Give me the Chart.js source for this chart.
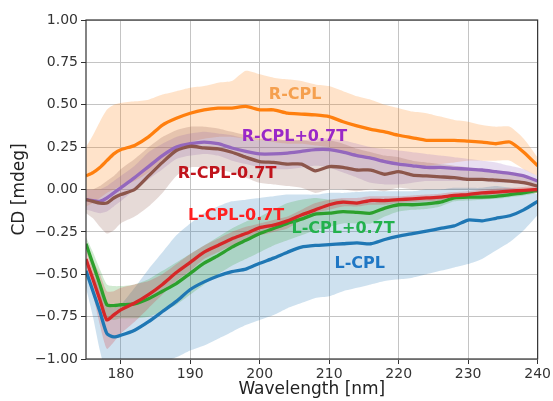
<!DOCTYPE html>
<html>
<head>
<meta charset="utf-8">
<script src="https://cdn.jsdelivr.net/npm/chart.js@4"></script>
<style>
  html, body { margin: 0; padding: 0; background: #fff; }
  #wrap { width: 553px; height: 401px; }
</style>
</head>
<body>
<div id="wrap"><canvas id="cdChart" width="553" height="401"></canvas></div>
<script>
// wavelengths in nm
const wavelengths = [175,176,177,178,179,180,182,184,186,188,190,192,194,196,198,200,202,204,206,208,210,212,214,216,218,220,222,224,226,228,230,232,234,236,238,240];

// R-CPL (orange)
const rCpl      = [0.08,0.10,0.13,0.17,0.21,0.235,0.26,0.31,0.38,0.42,0.45,0.47,0.48,0.48,0.49,0.47,0.47,0.45,0.445,0.44,0.43,0.40,0.375,0.355,0.34,0.32,0.305,0.29,0.29,0.29,0.285,0.28,0.27,0.28,0.22,0.14];
const rCplHi    = [0.25,0.32,0.40,0.47,0.50,0.51,0.52,0.53,0.56,0.58,0.60,0.61,0.63,0.64,0.70,0.68,0.66,0.65,0.64,0.62,0.61,0.58,0.55,0.53,0.50,0.48,0.46,0.45,0.43,0.41,0.40,0.38,0.37,0.37,0.30,0.19];
const rCplLo    = [-0.10,-0.08,-0.05,-0.02,0.0,0.02,0.05,0.10,0.17,0.23,0.28,0.30,0.31,0.31,0.30,0.29,0.28,0.27,0.27,0.26,0.25,0.22,0.20,0.18,0.17,0.16,0.15,0.14,0.15,0.16,0.17,0.17,0.17,0.17,0.12,0.08];

// R-CPL+0.7T (purple)
const rCplPlus   = [-0.06,-0.065,-0.07,-0.05,-0.02,0.01,0.07,0.135,0.20,0.25,0.27,0.28,0.27,0.245,0.225,0.21,0.21,0.215,0.225,0.235,0.235,0.22,0.20,0.185,0.165,0.15,0.14,0.13,0.13,0.125,0.12,0.115,0.105,0.095,0.08,0.05];
const rCplPlusHi = [0.0,0.0,0.0,0.02,0.05,0.08,0.14,0.22,0.27,0.31,0.33,0.34,0.33,0.32,0.30,0.29,0.29,0.29,0.29,0.30,0.30,0.29,0.27,0.25,0.24,0.23,0.22,0.21,0.20,0.19,0.18,0.17,0.16,0.14,0.12,0.08];
const rCplPlusLo = [-0.12,-0.13,-0.14,-0.13,-0.10,-0.07,0.0,0.06,0.12,0.18,0.20,0.21,0.20,0.17,0.15,0.13,0.12,0.12,0.13,0.14,0.13,0.10,0.07,0.04,0.03,0.03,0.04,0.05,0.05,0.05,0.05,0.05,0.04,0.04,0.03,0.02];

// R-CPL-0.7T (brown)
const rCplMinus   = [-0.06,-0.07,-0.08,-0.08,-0.05,-0.03,0.0,0.08,0.16,0.23,0.255,0.245,0.24,0.22,0.19,0.165,0.16,0.15,0.15,0.11,0.135,0.13,0.115,0.115,0.09,0.105,0.085,0.08,0.075,0.07,0.06,0.06,0.055,0.05,0.04,0.02];
const rCplMinusHi = [0.0,0.0,0.02,0.05,0.08,0.12,0.18,0.25,0.31,0.35,0.37,0.37,0.36,0.34,0.32,0.30,0.30,0.29,0.29,0.28,0.29,0.27,0.24,0.22,0.20,0.19,0.17,0.16,0.15,0.14,0.13,0.12,0.11,0.10,0.08,0.05];
const rCplMinusLo = [-0.14,-0.17,-0.22,-0.26,-0.24,-0.20,-0.16,-0.10,-0.02,0.08,0.13,0.13,0.12,0.10,0.07,0.04,0.03,0.02,0.01,-0.02,0.0,0.0,-0.01,0.0,-0.01,0.01,0.0,0.0,0.0,0.0,0.0,0.0,0.0,0.0,0.0,-0.01];

// L-CPL-0.7T (red)
const lCplMinus   = [-0.41,-0.53,-0.65,-0.77,-0.74,-0.71,-0.67,-0.62,-0.56,-0.49,-0.43,-0.37,-0.33,-0.29,-0.26,-0.225,-0.21,-0.185,-0.15,-0.12,-0.09,-0.075,-0.08,-0.065,-0.065,-0.06,-0.055,-0.05,-0.045,-0.035,-0.03,-0.02,-0.015,-0.01,-0.005,0.0];
const lCplMinusHi = [-0.36,-0.42,-0.50,-0.60,-0.60,-0.58,-0.56,-0.54,-0.50,-0.44,-0.38,-0.33,-0.29,-0.25,-0.22,-0.20,-0.18,-0.16,-0.12,-0.08,-0.06,-0.05,-0.05,-0.04,-0.04,-0.04,-0.035,-0.03,-0.025,-0.015,-0.01,0.0,0.005,0.01,0.015,0.02];
const lCplMinusLo = [-0.46,-0.62,-0.80,-0.94,-0.90,-0.85,-0.78,-0.70,-0.62,-0.54,-0.48,-0.41,-0.37,-0.33,-0.30,-0.27,-0.25,-0.23,-0.18,-0.14,-0.12,-0.10,-0.10,-0.09,-0.09,-0.08,-0.075,-0.07,-0.065,-0.055,-0.05,-0.04,-0.035,-0.03,-0.025,-0.02];

// L-CPL+0.7T (green)
const lCplPlus   = [-0.32,-0.44,-0.56,-0.68,-0.685,-0.68,-0.675,-0.645,-0.60,-0.555,-0.495,-0.435,-0.39,-0.34,-0.30,-0.26,-0.23,-0.20,-0.175,-0.145,-0.14,-0.13,-0.135,-0.14,-0.11,-0.09,-0.09,-0.085,-0.075,-0.05,-0.045,-0.045,-0.04,-0.03,-0.02,-0.005];
const lCplPlusHi = [-0.28,-0.37,-0.47,-0.56,-0.57,-0.57,-0.56,-0.53,-0.48,-0.43,-0.38,-0.33,-0.28,-0.23,-0.19,-0.16,-0.12,-0.08,-0.06,-0.05,-0.06,-0.06,-0.07,-0.08,-0.06,-0.05,-0.05,-0.05,-0.04,-0.03,-0.02,-0.02,-0.02,-0.01,0.0,0.01];
const lCplPlusLo = [-0.36,-0.50,-0.64,-0.76,-0.77,-0.76,-0.76,-0.75,-0.72,-0.68,-0.62,-0.56,-0.50,-0.45,-0.41,-0.37,-0.33,-0.30,-0.27,-0.24,-0.22,-0.20,-0.20,-0.20,-0.16,-0.13,-0.12,-0.115,-0.10,-0.07,-0.065,-0.06,-0.055,-0.045,-0.035,-0.02];

// L-CPL (blue)
const lCpl   = [-0.48,-0.60,-0.72,-0.85,-0.87,-0.86,-0.83,-0.78,-0.72,-0.66,-0.59,-0.545,-0.51,-0.485,-0.47,-0.435,-0.405,-0.37,-0.34,-0.33,-0.325,-0.32,-0.315,-0.32,-0.295,-0.275,-0.26,-0.245,-0.23,-0.215,-0.18,-0.185,-0.17,-0.155,-0.12,-0.07];
const lCplHi = [-0.40,-0.50,-0.58,-0.68,-0.70,-0.68,-0.58,-0.47,-0.37,-0.27,-0.20,-0.14,-0.10,-0.07,-0.06,-0.05,-0.04,-0.03,-0.03,-0.03,-0.02,-0.02,-0.015,-0.01,-0.01,-0.01,-0.01,0.0,0.0,0.01,0.01,0.01,0.02,0.01,0.0,-0.03];
const lCplLo = [-0.58,-0.75,-0.95,-1.10,-1.15,-1.15,-1.12,-1.06,-1.02,-0.99,-0.95,-0.92,-0.88,-0.84,-0.80,-0.77,-0.74,-0.70,-0.67,-0.64,-0.63,-0.60,-0.58,-0.56,-0.54,-0.53,-0.52,-0.50,-0.48,-0.46,-0.44,-0.41,-0.36,-0.31,-0.24,-0.15];

// in-plot labels
const labelTexts = ['R-CPL','R-CPL+0.7T','R-CPL-0.7T','L-CPL-0.7T','L-CPL+0.7T','L-CPL'];
const labelX     = [205.1, 205.0, 195.3, 196.6, 212.0, 214.4];
const labelY     = [0.56, 0.31, 0.09, -0.155, -0.23, -0.44];
const labelColors = ['#f5a04f','#9a28c8','#c0141c','#ff1f1f','#22b14c','#1f77c4'];

const xTicks = [180,190,200,210,220,230,240];
const yTicks = [-1,-0.75,-0.5,-0.25,0,0.25,0.5,0.75,1];

const pts = arr => arr.map((v, i) => ({ x: wavelengths[i], y: v }));

// drawn top-first (index 0 on top)
const series = [
  { mean: rCplMinus, lo: rCplMinusLo, hi: rCplMinusHi, rgb: '140,86,75' },
  { mean: rCplPlus,  lo: rCplPlusLo,  hi: rCplPlusHi,  rgb: '148,103,189' },
  { mean: lCplMinus, lo: lCplMinusLo, hi: lCplMinusHi, rgb: '214,39,40' },
  { mean: lCplPlus,  lo: lCplPlusLo,  hi: lCplPlusHi,  rgb: '44,160,44' },
  { mean: rCpl,      lo: rCplLo,      hi: rCplHi,      rgb: '255,127,14' },
  { mean: lCpl,      lo: lCplLo,      hi: lCplHi,      rgb: '31,119,180' },
];

const datasets = [];
series.forEach(s => {
  datasets.push({
    data: pts(s.mean),
    borderColor: 'rgb(' + s.rgb + ')',
    borderWidth: 3.3,
    pointRadius: 0,
    fill: false,
    tension: 0.2,
  });
});
series.forEach(s => {
  datasets.push({
    data: pts(s.lo),
    borderWidth: 0,
    pointRadius: 0,
    fill: false,
    tension: 0.2,
  });
  datasets.push({
    data: pts(s.hi),
    borderWidth: 0,
    pointRadius: 0,
    backgroundColor: 'rgba(' + s.rgb + ',0.22)',
    fill: '-1',
    tension: 0.2,
  });
});

const minusSign = v => v.toFixed(2).replace('-', '\u2212');

const decorations = {
  id: 'decorations',
  afterDatasetsDraw(chart) {
    const { ctx, chartArea, scales } = chart;
    ctx.save();
    ctx.font = 'bold 16px "DejaVu Sans"';
    ctx.textAlign = 'center';
    ctx.textBaseline = 'middle';
    labelTexts.forEach((t, i) => {
      ctx.fillStyle = labelColors[i];
      ctx.fillText(t, scales.x.getPixelForValue(labelX[i]), scales.y.getPixelForValue(labelY[i]));
    });
    ctx.strokeStyle = '#333';
    ctx.lineWidth = 1.2;
    ctx.strokeRect(chartArea.left, chartArea.top, chartArea.right - chartArea.left, chartArea.bottom - chartArea.top);
    ctx.restore();
  }
};

new Chart(document.getElementById('cdChart'), {
  type: 'line',
  data: { datasets },
  plugins: [decorations],
  options: {
    responsive: false,
    animation: false,
    layout: { padding: { top: 20, right: 14, left: 0, bottom: 0 } },
    plugins: { legend: { display: false }, tooltip: { enabled: false } },
    scales: {
      x: {
        type: 'linear',
        min: 175,
        max: 240,
        afterBuildTicks: axis => { axis.ticks = xTicks.map(v => ({ value: v })); },
        afterFit: axis => { axis.height = 42; },
        grid: { color: '#c4c4c4', tickColor: '#333', tickLength: 5, lineWidth: 1 },
        border: { display: false },
        ticks: { color: '#333', padding: 2, maxRotation: 0, font: { family: 'DejaVu Sans', size: 14 } },
        title: { display: true, text: 'Wavelength [nm]', color: '#222', padding: { top: 0, bottom: 1 }, font: { family: 'DejaVu Sans', size: 17 } },
      },
      y: {
        min: -1,
        max: 1,
        afterBuildTicks: axis => { axis.ticks = yTicks.map(v => ({ value: v })); },
        afterFit: axis => { axis.width = 86; },
        grid: { color: '#c4c4c4', tickColor: '#333', tickLength: 5, lineWidth: 1 },
        border: { display: false },
        ticks: { color: '#333', padding: 3, callback: v => minusSign(v), font: { family: 'DejaVu Sans', size: 14 } },
        title: { display: true, text: 'CD [mdeg]', color: '#222', padding: { top: 9, bottom: 0 }, font: { family: 'DejaVu Sans', size: 17 } },
      },
    },
  },
});
</script>
</body>
</html>
